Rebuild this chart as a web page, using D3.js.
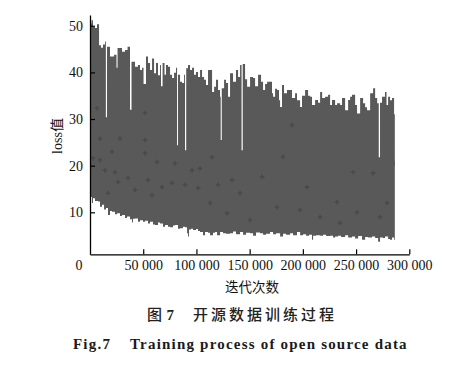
<!DOCTYPE html>
<html><head><meta charset="utf-8">
<script src="https://cdn.jsdelivr.net/npm/d3@7"></script>
<style>body{margin:0;background:#fff}svg{display:block}</style>
</head><body>
<script>
// iterations in thousands, loss values
const upperIter = [0,1.4,2.8,4.7,6.6,8.5,10.3,12.2,14.1,14.9,16.0,18.8,22.6,24.9,25.9,30.1,32.9,35.3,37.6,39.0,42.3,45.1,47.0,48.9,50.3,52.6,54.5,56.4,58.3,60.2,62.0,63.9,65.8,66.7,68.2,70.0,71.4,73.3,75.2,77.1,79.0,80.8,81.8,82.7,84.6,86.5,88.4,89.3,90.4,92.1,94.0,95.9,97.7,99.6,101.5,103.4,105.3,107.2,109.0,110.9,112.8,114.7,116.6,118.4,120.3,122.2,122.8,123.8,126.0,127.8,129.7,131.6,134.4,137.2,139.1,141.0,142.4,143.5,145.7,147.6,150.4,153.2,155.1,157.9,160.7,162.6,164.5,166.4,169.2,171.0,172.0,173.9,175.7,177.6,178.6,180.4,182.3,185.1,188.0,189.8,192.7,194.5,197.4,199.2,202.1,204.9,206.8,208.6,211.5,214.3,216.2,218.1,220.9,223.7,225.6,227.4,230.3,232.1,235.0,236.8,239.7,242.5,244.4,246.2,249.1,250.9,253.8,256.6,258.5,260.3,263.2,266.0,267.9,269.8,271.3,272.5,274.4,277.2,278.6,280.1,281.9,283.8,285.7,286.4];
const upperLoss = [50.5,51.2,49.8,49.5,50.3,45.8,45.3,46.0,46.6,30.4,45.5,43.4,43.8,41.0,45.2,44.4,44.8,45.5,32.0,42.3,41.2,41.6,40.5,41.0,37.5,43.4,42.0,40.5,43.0,39.8,42.0,39.4,41.6,37.0,42.0,39.5,41.6,41.2,39.5,38.8,39.9,41.0,24.4,39.5,38.0,37.7,39.5,23.3,40.9,41.6,40.5,41.0,39.5,40.1,39.0,40.5,39.0,38.4,37.3,40.5,40.5,35.8,36.9,38.4,36.2,34.8,25.5,36.6,38.4,37.7,34.8,39.8,38.0,40.5,39.0,41.6,23.3,41.8,38.5,36.9,39.0,38.8,37.0,39.5,38.0,36.2,37.5,38.0,38.0,35.5,34.8,36.5,36.2,34.0,32.6,37.3,35.5,36.2,36.2,34.5,35.5,34.0,32.6,35.0,36.2,35.0,34.8,33.0,34.1,33.5,35.8,34.5,34.8,35.2,33.0,34.1,33.0,33.4,33.0,34.5,31.9,34.1,34.8,35.2,33.0,31.2,34.5,33.4,32.5,31.9,35.5,36.6,34.5,33.4,21.8,33.5,34.8,35.8,33.0,34.8,34.0,34.5,31.0,31.0];
const lowerIter = [0,1.9,2.8,4.7,7.5,9.4,11.3,13.2,15.0,16.9,18.8,20.7,23.5,25.4,28.2,30.1,32.9,34.8,37.6,39.5,40.4,42.3,45.1,47.0,49.8,51.7,54.5,56.4,59.2,61.1,63.9,65.8,68.6,70.5,73.3,75.2,78.0,79.9,82.7,84.6,87.4,89.3,91.2,92.1,93.0,94.9,96.8,99.6,101.5,103.4,106.2,108.1,110.9,112.8,115.6,117.5,119.4,122.2,125.0,127.8,131.6,134.4,137.2,141.0,143.8,146.6,150.4,153.2,156.0,159.8,162.6,165.4,169.2,172.0,174.8,178.6,181.4,184.2,188.0,190.8,194.5,197.4,200.2,203.0,205.8,208.6,209.6,212.4,216.2,219.0,221.8,225.6,228.4,230.3,233.1,235.9,239.7,242.5,246.2,249.1,251.9,255.6,258.5,261.3,265.0,267.9,270.7,272.5,275.3,277.2,280.1,281.9,283.8,285.7,286.4];
const lowerLoss = [13.3,12.0,13.0,12.4,12.3,11.2,11.6,10.6,10.9,9.4,10.3,10.1,9.6,9.8,9.2,9.4,8.8,9.1,8.5,7.8,8.6,8.7,8.0,8.3,8.0,8.2,7.6,8.0,7.4,7.3,7.8,7.6,6.9,7.3,6.9,6.8,7.2,7.3,6.5,6.6,6.9,6.8,5.5,4.8,6.3,6.5,6.2,6.4,6.0,5.8,5.1,5.8,5.6,5.1,5.6,5.8,5.1,5.8,5.5,5.4,5.5,5.9,5.3,5.8,5.2,5.6,5.5,5.0,5.7,5.5,5.2,5.4,5.8,5.3,5.5,4.8,5.4,5.2,5.5,5.1,5.8,5.1,5.3,5.0,5.2,4.1,5.0,5.1,5.0,5.2,4.9,5.0,4.6,4.8,5.0,4.7,5.1,4.6,4.8,4.4,4.9,4.1,4.7,4.6,4.8,4.5,3.7,4.6,4.5,4.8,4.3,4.1,4.6,4.1,4.1];
// darker scattered markers
const markIter = [6.6,51.7,9.4,28.2,51.7,20.7,51.7,9.4,2.8,79.9,63.0,114.7,95.9,103.4,14.1,23.5,35.7,26.3,54.5,67.7,77.1,89.3,101.5,120.3,133.5,16.9,42.3,58.3,189.8,161.7,181.4,203.9,247.2,266.0,141.0,232.1,279.1,197.4,216.2,250.9,272.5,175.7,128.8,112.8,150.4,235.0];
const markLoss = [32.3,31.3,25.8,25.8,25.5,23.0,22.7,21.2,21.6,20.5,20.8,21.8,19.0,19.4,19.0,18.6,17.3,16.5,16.9,15.4,16.3,15.9,15.2,15.9,16.9,14.1,14.8,13.7,28.7,17.6,21.9,15.4,18.6,18.4,14.1,12.2,12.0,10.5,9.0,10.0,9.0,11.1,9.8,12.0,8.3,7.7];
const xTicks = [50,100,150,200,250,300];
const xTickLabels = ["50 000","100 000","150 000","200 000","250 000","300 000"];
const yTicks = [10,20,30,40,50];
const originLabel = "0";
const xTitle = "迭代次数";
const yTitle = "loss值";
const captionCN1 = "图";
const captionCN1b = "7";
const captionCN2 = "开源数据训练过程";
const captionEN1 = "Fig.7";
const captionEN2 = "Training process of open source data";

const W = 453, H = 381;
const svg = d3.select("body").append("svg").attr("width", W).attr("height", H);
const x = d3.scaleLinear().domain([0, 300]).range([90, 409.3]);
const y = d3.scaleLinear().domain([1, 52.3]).range([254.3, 15]);
const serif = "'Liberation Serif','Times New Roman','Noto Sans CJK SC',serif";
const cjk = "'Noto Sans CJK SC',sans-serif";
const fill = "#595959";

const up = upperIter.map((d, i) => [d, upperLoss[i]]);
const lo = lowerIter.map((d, i) => [d, lowerLoss[i]]);
svg.append("path").datum(up)
  .attr("d", d3.area().curve(d3.curveStepAfter).x(d => x(d[0])).y0(y(20)).y1(d => y(d[1])))
  .attr("fill", fill);
svg.append("path").datum(lo)
  .attr("d", d3.area().curve(d3.curveStepAfter).x(d => x(d[0])).y0(d => y(d[1])).y1(y(21)))
  .attr("fill", fill);

const marks = markIter.map((d, i) => [d, markLoss[i]]);
svg.append("g").selectAll("path").data(marks).join("path")
  .attr("transform", d => `translate(${x(d[0])},${y(d[1])})`)
  .attr("d", d3.symbol(d3.symbolCross, 12)())
  .attr("fill", "#4a4a4a");

// axes
const gx = svg.append("g").attr("transform", `translate(0,${y(1)})`)
  .call(d3.axisBottom(x).tickValues(xTicks).tickSize(-5).tickSizeOuter(0).tickFormat((d, i) => xTickLabels[i]));
gx.select(".domain").attr("stroke", "#000").attr("stroke-width", 1.3);
gx.selectAll(".tick line").attr("stroke", "#000").attr("stroke-width", 1.2);
gx.selectAll(".tick text").attr("font-family", serif).attr("font-size", 14).attr("fill", "#111")
  .attr("y", 0).attr("dy", null).attr("transform", "translate(0,15.7)");

const gy = svg.append("g").attr("transform", `translate(${x(0)},0)`)
  .call(d3.axisLeft(y).tickValues(yTicks).tickSize(-5).tickSizeOuter(0));
gy.select(".domain").attr("stroke", "#000").attr("stroke-width", 1.3);
gy.selectAll(".tick line").attr("stroke", "#000").attr("stroke-width", 1.2);
gy.selectAll(".tick text").attr("font-family", serif).attr("font-size", 14).attr("fill", "#111")
  .attr("x", -7);

svg.append("text").attr("x", 79).attr("y", 270).attr("text-anchor", "middle")
  .attr("font-family", serif).attr("font-size", 14).attr("fill", "#111").text(originLabel);

svg.append("text").attr("x", 252).attr("y", 292).attr("text-anchor", "middle")
  .attr("font-family", cjk).attr("font-size", 13.5).attr("fill", "#111").text(xTitle);

svg.append("text").attr("transform", "translate(57,136) rotate(-90)").attr("text-anchor", "middle")
  .attr("dominant-baseline", "central")
  .attr("font-family", serif).attr("font-size", 14).attr("fill", "#111").text(yTitle);

svg.append("text").attr("x", 147).attr("y", 320)
  .attr("font-family", cjk).attr("font-size", 15).attr("font-weight", 500).attr("fill", "#222").text(captionCN1);
svg.append("text").attr("x", 166.5).attr("y", 320)
  .attr("font-family", serif).attr("font-size", 15).attr("font-weight", "bold").attr("fill", "#222").text(captionCN1b);
svg.append("text").attr("x", 193).attr("y", 320)
  .attr("font-family", cjk).attr("font-size", 15).attr("letter-spacing", 3).attr("font-weight", 500).attr("fill", "#222").text(captionCN2);

svg.append("text").attr("x", 73).attr("y", 349)
  .attr("font-family", serif).attr("font-size", 15).attr("font-weight", "bold").attr("letter-spacing", 1.2).attr("fill", "#1a1a1a").text(captionEN1);
svg.append("text").attr("x", 130).attr("y", 349)
  .attr("font-family", serif).attr("font-size", 15).attr("font-weight", "bold").attr("letter-spacing", 1.2).attr("fill", "#1a1a1a").text(captionEN2);
</script>
</body></html>
